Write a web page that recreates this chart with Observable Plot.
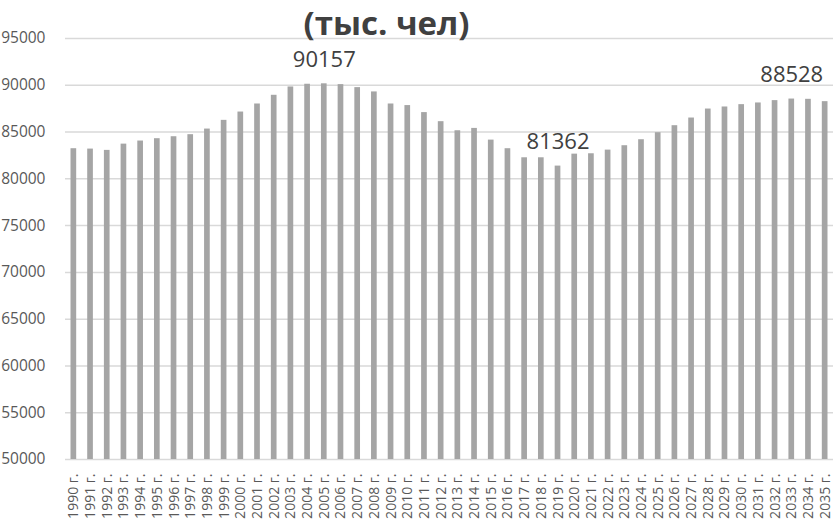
<!DOCTYPE html>
<html><head><meta charset="utf-8">
<script src="https://cdn.jsdelivr.net/npm/d3@7"></script>
<script src="https://cdn.jsdelivr.net/npm/@observablehq/plot@0.6"></script>
<style>body{margin:0;background:#fff}</style>
</head><body><div id="chart"></div>
<script>
const years = [1990,1991,1992,1993,1994,1995,1996,1997,1998,1999,2000,2001,2002,2003,2004,2005,2006,2007,2008,2009,2010,2011,2012,2013,2014,2015,2016,2017,2018,2019,2020,2021,2022,2023,2024,2025,2026,2027,2028,2029,2030,2031,2032,2033,2034,2035];
const population = [83220,83180,83040,83710,84040,84290,84500,84720,85320,86250,87140,88000,88930,89820,90110,90157,90070,89750,89290,88000,87830,87080,86110,85140,85390,84140,83220,82250,82250,81362,82640,82680,83070,83540,84180,84930,85680,86500,87460,87680,87930,88110,88360,88528,88500,88250];
const yTicks = [50000,55000,60000,65000,70000,75000,80000,85000,90000,95000];
const labeledYears = [2005, 2019, 2033];
const title = "(тыс. чел)";

const data = years.map((y, i) => ({year: y + " г.", value: population[i], raw: y}));
const labels = data.filter(d => labeledYears.includes(d.raw));

const chart = Plot.plot({
  width: 833, height: 524,
  marginTop: 38, marginBottom: 65, marginLeft: 65, marginRight: 0,
  style: {fontFamily: "'Open Sans', sans-serif", color: "#595959", background: "#fff"},
  x: {domain: data.map(d => d.year), paddingInner: 0.66, paddingOuter: 0.33, label: null},
  y: {domain: [50000, 95000], label: null},
  marks: [
    Plot.ruleY(yTicks, {stroke: "#d9d9d9", strokeWidth: 1.5}),
    Plot.barY(data, {x: "year", y1: 50000, y2: "value", fill: "#a5a5a5"}),
    Plot.axisY({ticks: yTicks, tickSize: 0, tickPadding: 20, tickFormat: d => String(d), fontSize: 15.5, label: null}),
    Plot.axisX({tickRotate: -90, tickSize: 0, tickPadding: 14, fontSize: 14, label: null}),
    Plot.text(labels, {x: "year", y: "value", text: d => String(d.value), dy: -24, fontSize: 22, fill: "#404040"}),
    Plot.text([title], {frameAnchor: "top", dx: -63, dy: -27, fontSize: 33, fontWeight: "bold", fill: "#404040"})
  ]
});
document.getElementById("chart").appendChild(chart);
</script>
</body></html>
